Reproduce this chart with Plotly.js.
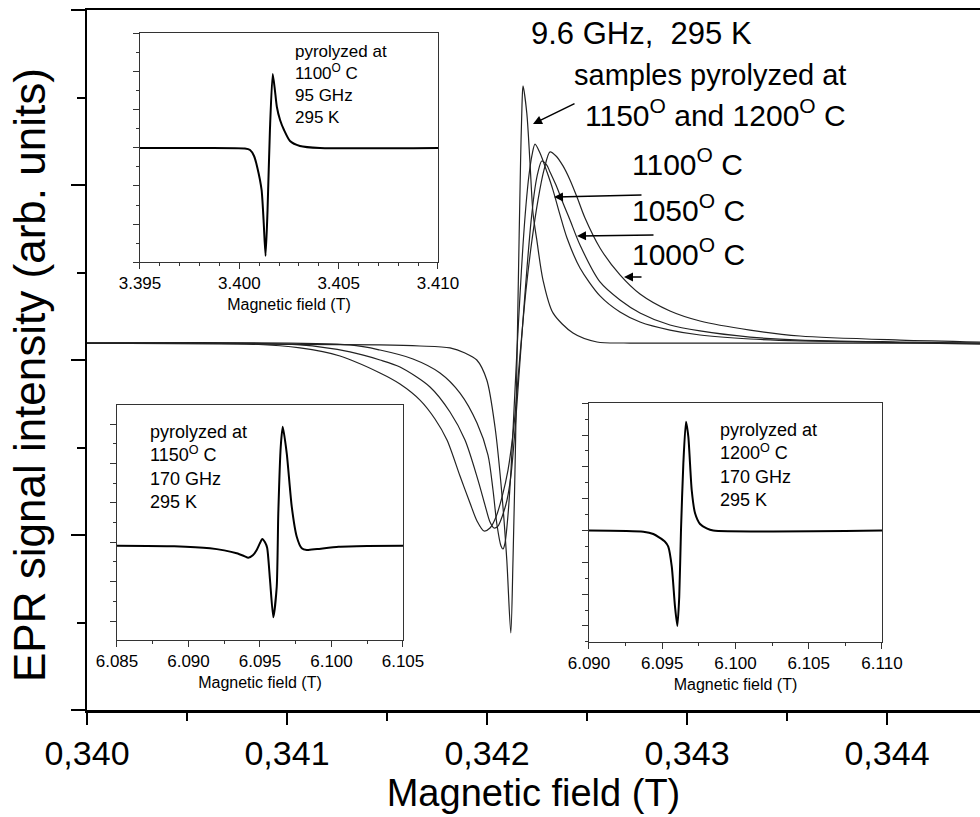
<!DOCTYPE html>
<html>
<head>
<meta charset="utf-8">
<script src="https://cdn.plot.ly/plotly-3.0.1.min.js"></script>
<style>html,body{margin:0;padding:0;background:#fff;}#chart{width:980px;height:817px;}</style>
</head>
<body>
<div id="chart"></div>
<script>
// ---------- main spectra, 9.6 GHz, 295 K (field in T, signal in arb. units) ----------
const field1150_1200 = [0.340000, 0.341465, 0.341665, 0.341815, 0.341890, 0.341949, 0.341999, 0.342040, 0.342074, 0.342099, 0.342119, 0.342130, 0.342143, 0.342155, 0.342168, 0.342175, 0.342180, 0.342199, 0.342215, 0.342230, 0.342249, 0.342280, 0.342330, 0.342430, 0.342550, 0.342715, 0.344465];
const signal1150_1200 = [0.097, 0.086, 0.080, 0.069, 0.040, 0, -0.114, -0.383, -0.760, -1.143, -1.560, -1.143, -0.457, 0.343, 1.143, 1.457, 1.566, 1.411, 1.126, 0.840, 0.686, 0.457, 0.269, 0.154, 0.103, 0.097, 0.097];

const field1100 = [0.340000, 0.341315, 0.341465, 0.341630, 0.341765, 0.341865, 0.341950, 0.342005, 0.342030, 0.342050, 0.342070, 0.342080, 0.342090, 0.342105, 0.342120, 0.342135, 0.342150, 0.342165, 0.342180, 0.342195, 0.342210, 0.342225, 0.342240, 0.342265, 0.342300, 0.342330, 0.342365, 0.342400, 0.342465, 0.342565, 0.342665, 0.342765, 0.342915, 0.343065, 0.343315, 0.343565, 0.344465];
const signal1100 = [0.097, 0.086, 0.057, 0.006, -0.074, -0.189, -0.360, -0.543, -0.743, -0.943, -1.063, -1.080, -1.046, -0.886, -0.629, -0.286, 0.057, 0.371, 0.657, 0.886, 1.057, 1.171, 1.234, 1.183, 1.074, 0.971, 0.829, 0.697, 0.526, 0.366, 0.274, 0.217, 0.171, 0.143, 0.120, 0.109, 0.091];

const field1050 = [0.340000, 0.341065, 0.341315, 0.341465, 0.341565, 0.341715, 0.341815, 0.341890, 0.341955, 0.341990, 0.342015, 0.342035, 0.342055, 0.342075, 0.342100, 0.342120, 0.342140, 0.342160, 0.342180, 0.342200, 0.342220, 0.342240, 0.342255, 0.342274, 0.342299, 0.342315, 0.342349, 0.342380, 0.342415, 0.342465, 0.342565, 0.342665, 0.342765, 0.342915, 0.343065, 0.343315, 0.343565, 0.344065, 0.344465];
const signal1050 = [0.097, 0.086, 0.046, 0, -0.040, -0.154, -0.297, -0.457, -0.686, -0.829, -0.926, -0.960, -0.949, -0.897, -0.800, -0.657, -0.400, -0.086, 0.229, 0.526, 0.789, 0.983, 1.074, 1.137, 1.114, 1.074, 0.989, 0.897, 0.800, 0.657, 0.446, 0.343, 0.269, 0.200, 0.166, 0.131, 0.114, 0.103, 0.097];

const field1000 = [0.340000, 0.340815, 0.341065, 0.341265, 0.341465, 0.341565, 0.341665, 0.341740, 0.341800, 0.341865, 0.341915, 0.341950, 0.341985, 0.342015, 0.342045, 0.342075, 0.342105, 0.342135, 0.342165, 0.342195, 0.342225, 0.342255, 0.342285, 0.342315, 0.342345, 0.342380, 0.342415, 0.342450, 0.342490, 0.342565, 0.342665, 0.342765, 0.342915, 0.343065, 0.343315, 0.343565, 0.344065, 0.344465];
const signal1000 = [0.097, 0.091, 0.069, 0.023, -0.074, -0.137, -0.229, -0.337, -0.457, -0.663, -0.817, -0.920, -0.977, -0.960, -0.897, -0.783, -0.629, -0.371, 0.029, 0.400, 0.686, 0.914, 1.086, 1.189, 1.166, 1.109, 1.029, 0.931, 0.811, 0.640, 0.486, 0.377, 0.280, 0.223, 0.171, 0.137, 0.114, 0.103];

const mainTickVals = [0.340, 0.341, 0.342, 0.343, 0.344];
const mainTickLabels = ["0,340", "0,341", "0,342", "0,343", "0,344"];

// ---------- inset 1: 1100 C, 95 GHz ----------
const inset95Field = [3.39500, 3.39802, 3.40028, 3.40054, 3.40074, 3.40091, 3.40112, 3.40122, 3.40132, 3.40142, 3.40154, 3.40168, 3.40179, 3.40189, 3.40205, 3.40225, 3.40255, 3.40305, 3.40406, 3.41000];
const inset95Signal = [0, 0, -0.013, -0.053, -0.211, -0.526, -1.105, -1.895, -2.842, -1.632, 0.474, 1.947, 1.526, 1.079, 0.737, 0.474, 0.184, 0.053, 0, 0];

// ---------- inset 2: 1150 C, 170 GHz ----------
const inset1150Field = [6.08500, 6.08900, 6.09150, 6.09250, 6.09337, 6.09390, 6.09418, 6.09450, 6.09477, 6.09500, 6.09516, 6.09535, 6.09550, 6.09570, 6.09593, 6.09617, 6.09628, 6.09645, 6.09659, 6.09687, 6.09722, 6.09757, 6.09792, 6.09827, 6.09900, 6.10050, 6.10250, 6.10500];
const inset1150Signal = [-0.086, -0.100, -0.150, -0.205, -0.279, -0.350, -0.391, -0.330, -0.195, -0.020, 0.084, 0.000, -0.140, -0.957, -1.904, -1.127, 0.736, 2.426, 2.934, 2.259, 0.904, 0.142, -0.152, -0.195, -0.170, -0.115, -0.095, -0.086];

// ---------- inset 3: 1200 C, 170 GHz ----------
const inset1200Field = [6.09000, 6.09371, 6.09439, 6.09519, 6.09541, 6.09565, 6.09587, 6.09603, 6.09616, 6.09628, 6.09644, 6.09662, 6.09678, 6.09701, 6.09724, 6.09758, 6.09803, 6.09848, 6.11000];
const inset1200Signal = [0, -0.038, -0.110, -0.352, -0.509, -1.138, -2.396, -3.003, -2.082, 0.016, 2.113, 3.421, 2.950, 1.274, 0.541, 0.204, 0.069, 0, 0];

const FONT = "Liberation Sans, Arial, Helvetica, sans-serif";
const mainLine = {color: '#222', width: 1.2, shape: 'spline', smoothing: 0.8};
const insetLine = {color: '#000', width: 2, shape: 'spline', smoothing: 0.6};

const traces = [
  {x: field1150_1200, y: signal1150_1200, mode: 'lines', line: mainLine, xaxis: 'x', yaxis: 'y', name: '1150/1200 C'},
  {x: field1100, y: signal1100, mode: 'lines', line: mainLine, xaxis: 'x', yaxis: 'y', name: '1100 C'},
  {x: field1050, y: signal1050, mode: 'lines', line: mainLine, xaxis: 'x', yaxis: 'y', name: '1050 C'},
  {x: field1000, y: signal1000, mode: 'lines', line: mainLine, xaxis: 'x', yaxis: 'y', name: '1000 C'},
  {x: inset95Field, y: inset95Signal, mode: 'lines', line: insetLine, xaxis: 'x2', yaxis: 'y2'},
  {x: inset1150Field, y: inset1150Signal, mode: 'lines', line: insetLine, xaxis: 'x3', yaxis: 'y3'},
  {x: inset1200Field, y: inset1200Signal, mode: 'lines', line: insetLine, xaxis: 'x4', yaxis: 'y4'}
];

function insetX(domain, range, minorStep, anchor) {
  return {
    domain: domain, anchor: anchor, range: range, dtick: 0.005, tick0: range[0], tickformat: '.3f',
    ticks: 'outside', ticklen: 6, tickwidth: 1, tickcolor: '#333',
    showline: true, linecolor: '#333', linewidth: 1, mirror: true,
    showgrid: false, zeroline: false, tickfont: {size: 17, color: '#000'},
    title: {text: 'Magnetic field (T)', font: {size: 16, color: '#000'}, standoff: 6},
    minor: {dtick: minorStep, tick0: range[0], ticks: 'outside', ticklen: 3, tickwidth: 1, tickcolor: '#333'}
  };
}
function insetY(domain, range, anchor) {
  return {
    domain: domain, anchor: anchor, range: range, dtick: 1, tick0: 0,
    ticks: 'outside', ticklen: 6, tickwidth: 1, tickcolor: '#333', showticklabels: false,
    showline: true, linecolor: '#333', linewidth: 1, mirror: true,
    showgrid: false, zeroline: false,
    minor: {dtick: 0.5, tick0: 0, ticks: 'outside', ticklen: 3, tickwidth: 1, tickcolor: '#333'}
  };
}

const big = {size: 29, color: '#000', family: FONT};
const note = {size: 18, color: '#000', family: FONT};
function txt(x, y, text, font, yanchor) {
  return {xref: 'paper', yref: 'paper', x: x, y: y, text: text, showarrow: false,
          xanchor: 'left', yanchor: yanchor || 'middle', align: 'left', font: font};
}
function arrow(x, y, ax, ay) {
  return {xref: 'x', yref: 'y', x: x, y: y, ax: ax, ay: ay, text: '', showarrow: true,
          arrowhead: 2, arrowsize: 1.2, arrowwidth: 1.5, arrowcolor: '#000'};
}

const layout = {
  width: 980, height: 817,
  margin: {l: 87, r: 0, t: 10, b: 107},
  paper_bgcolor: '#fff', plot_bgcolor: '#fff',
  showlegend: false,
  font: {family: FONT, color: '#000'},
  xaxis: {
    range: [0.340, 0.344465], tickmode: 'array', tickvals: mainTickVals, ticktext: mainTickLabels,
    ticks: 'outside', ticklen: 12, tickwidth: 2, tickcolor: '#000',
    showline: true, linewidth: 2.5, linecolor: '#000', mirror: true,
    showgrid: false, zeroline: false, tickfont: {size: 34},
    title: {text: 'Magnetic field (T)', font: {size: 38}, standoff: 8},
    minor: {tickmode: 'linear', tick0: 0.340, dtick: 0.0005, ticks: 'outside', ticklen: 8, tickwidth: 2, tickcolor: '#000'}
  },
  yaxis: {
    range: [-2, 2], dtick: 1, tick0: 0,
    ticks: 'outside', ticklen: 14, tickwidth: 2, tickcolor: '#000', showticklabels: false,
    showline: true, linewidth: 2.5, linecolor: '#000',
    showgrid: false, zeroline: false,
    minor: {tick0: 0, dtick: 0.5, ticks: 'outside', ticklen: 8, tickwidth: 2, tickcolor: '#000'}
  },
  xaxis2: insetX([0.05935, 0.39306], [3.395, 3.410], 0.001, 'y2'),
  yaxis2: insetY([0.64, 0.96714], [-3.0, 3.026], 'x2'),
  xaxis3: insetX([0.03359, 0.35386], [6.085, 6.105], 0.0025, 'y3'),
  yaxis3: insetY([0.1, 0.43571], [-2.480, 3.485], 'x3'),
  xaxis4: insetX([0.56215, 0.89026], [6.090, 6.110], 0.0025, 'y4'),
  yaxis4: insetY([0.09714, 0.43857], [-3.506, 4.009], 'x4'),
  annotations: [
    {xref: 'paper', yref: 'paper', x: -0.0638, y: 0.4786, text: 'EPR signal intensity (arb. units)',
     textangle: -90, showarrow: false, xanchor: 'center', yanchor: 'middle', font: {size: 44, color: '#000', family: FONT}},
    txt(0.49496, 0.96714, '9.6 GHz,\u00a0\u00a0295 K', {size: 31, color: '#000', family: FONT}),
    txt(0.54311, 0.90714, 'samples pyrolyzed at', big),
    txt(0.55543, 0.85286, '1150<sup>O</sup> and 1200<sup>O</sup> C', {size: 30, color: '#000', family: FONT}),
    txt(0.60806, 0.78286, '1100<sup>O</sup> C', {size: 30, color: '#000', family: FONT}),
    txt(0.60806, 0.71714, '1050<sup>O</sup> C', {size: 30, color: '#000', family: FONT}),
    txt(0.60806, 0.65429, '1000<sup>O</sup> C', {size: 30, color: '#000', family: FONT}),
    arrow(0.342230, 1.349, 43, -21),
    arrow(0.342335, 0.931, 89, -2),
    arrow(0.342450, 0.709, 78, -1),
    arrow(0.342685, 0.474, 19, 0),
    txt(0.23068, 0.95714, 'pyrolyzed at<br>1100<sup>O</sup> C<br>95 GHz<br>295 K', {size: 17, color: '#000', family: FONT}, 'top'),
    txt(0.06831, 0.41429, 'pyrolyzed at<br>1150<sup>O</sup> C<br>170 GHz<br>295 K', note, 'top'),
    txt(0.70661, 0.41714, 'pyrolyzed at<br>1200<sup>O</sup> C<br>170 GHz<br>295 K', note, 'top')
  ]
};

Plotly.newPlot('chart', traces, layout, {staticPlot: true, displayModeBar: false});
</script>
</body>
</html>
